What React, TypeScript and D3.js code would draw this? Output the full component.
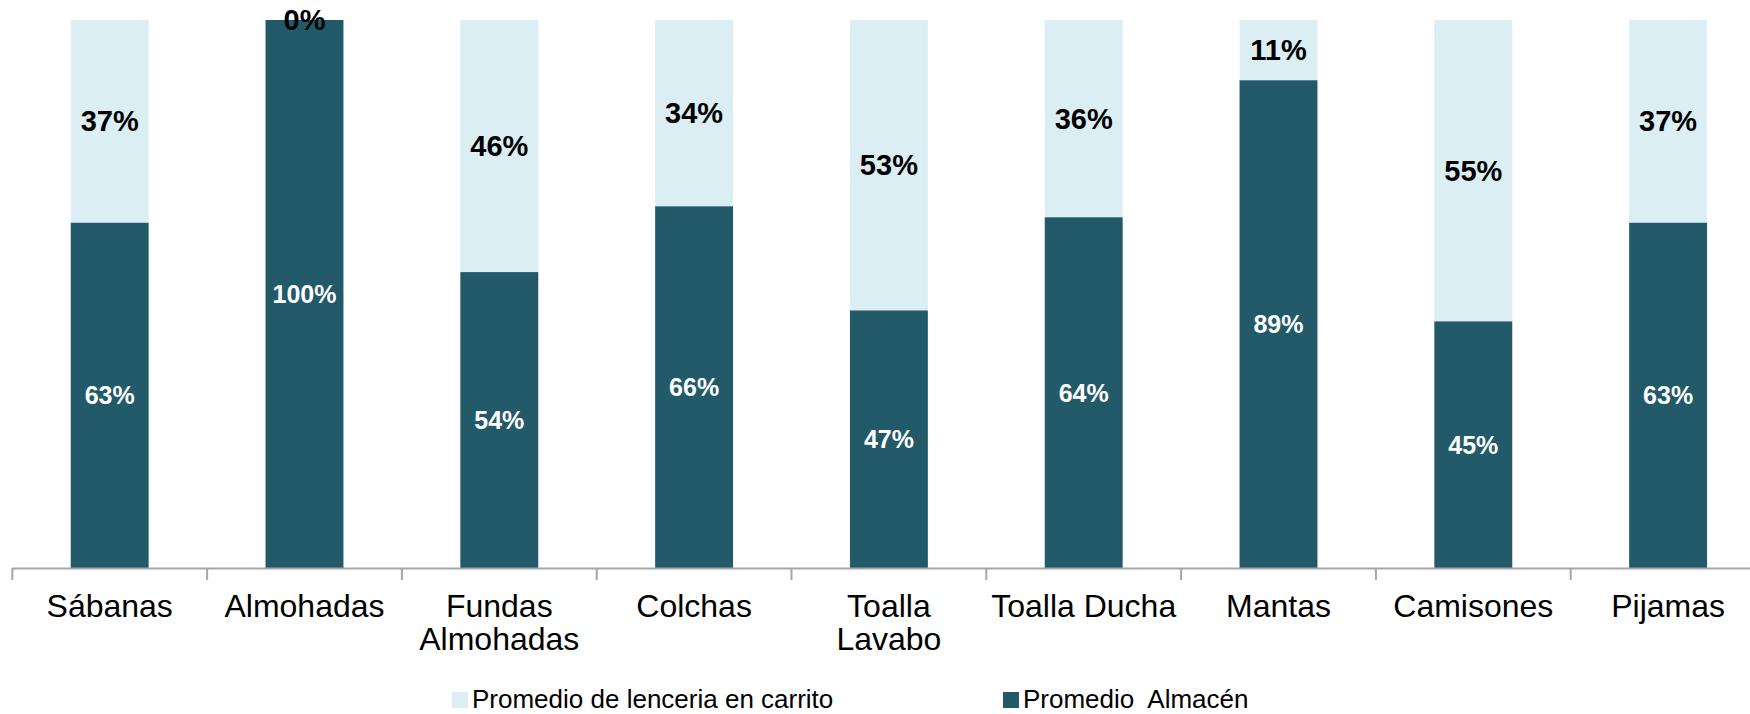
import React from "react";
import * as d3 from "d3";

const categories: string[][] = [
  ["Sábanas"],
  ["Almohadas"],
  ["Fundas", "Almohadas"],
  ["Colchas"],
  ["Toalla", "Lavabo"],
  ["Toalla Ducha"],
  ["Mantas"],
  ["Camisones"],
  ["Pijamas"],
];
const almacen = [63, 100, 54, 66, 47, 64, 89, 45, 63];
const carrito = [37, 0, 46, 34, 53, 36, 11, 55, 37];
const seriesNames = ["Promedio de lenceria en carrito", "Promedio  Almacén"];

const W = 1750;
const H = 714;
const DARK = "#225A69";
const LIGHT = "#DAEEF3";
const FONT = "'Liberation Sans', Arial, sans-serif";

export default function App() {
  const keys = categories.map((c) => c.join(" "));
  const x = d3
    .scaleBand<string>()
    .domain(keys)
    .range([12.3, 12.3 + 9 * 194.8])
    .paddingInner(0.6)
    .paddingOuter(0.3);
  const y = d3.scaleLinear().domain([0, 100]).range([568, 20]);
  const step = x.step();
  const x0 = 12.3;

  return (
    <svg
      width={W}
      height={H}
      style={{ position: "absolute", left: 0, top: 0, background: "#fff" }}
      fontFamily={FONT}
    >
      {keys.map((k, i) => {
        const bx = x(k)!;
        const bw = x.bandwidth();
        const a = almacen[i];
        const c = carrito[i];
        const cx = bx + bw / 2;
        return (
          <g key={k}>
            <rect x={bx} y={y(a + c)} width={bw} height={y(a) - y(a + c)} fill={LIGHT} />
            <rect x={bx} y={y(a)} width={bw} height={y(0) - y(a)} fill={DARK} />
            <text
              x={cx}
              y={(y(a) + y(a + c)) / 2 + 10}
              textAnchor="middle"
              fontSize={29}
              fontWeight="bold"
              fill="#000"
            >
              {c}%
            </text>
            <text
              x={cx}
              y={(y(0) + y(a)) / 2 + 9}
              textAnchor="middle"
              fontSize={25}
              fontWeight="bold"
              fill="#fff"
            >
              {a}%
            </text>
            {categories[i].map((line, j) => (
              <text
                key={j}
                x={cx}
                y={617 + j * 33}
                textAnchor="middle"
                fontSize={32}
                fill="#000"
              >
                {line}
              </text>
            ))}
          </g>
        );
      })}
      <line x1={x0} x2={W} y1={568.5} y2={568.5} stroke="#A6A6A6" strokeWidth={2} />
      {d3.range(0, 10).map((i) => (
        <line
          key={i}
          x1={x0 + i * step}
          x2={x0 + i * step}
          y1={568}
          y2={580}
          stroke="#A6A6A6"
          strokeWidth={2}
        />
      ))}
      <rect x={452} y={692} width={16} height={16} fill={LIGHT} />
      <text x={472} y={708} fontSize={26} fill="#000">
        {seriesNames[0]}
      </text>
      <rect x={1003} y={692} width={16} height={16} fill={DARK} />
      <text x={1023} y={708} fontSize={26} fill="#000" style={{ whiteSpace: "pre" }}>
        {seriesNames[1]}
      </text>
    </svg>
  );
}
